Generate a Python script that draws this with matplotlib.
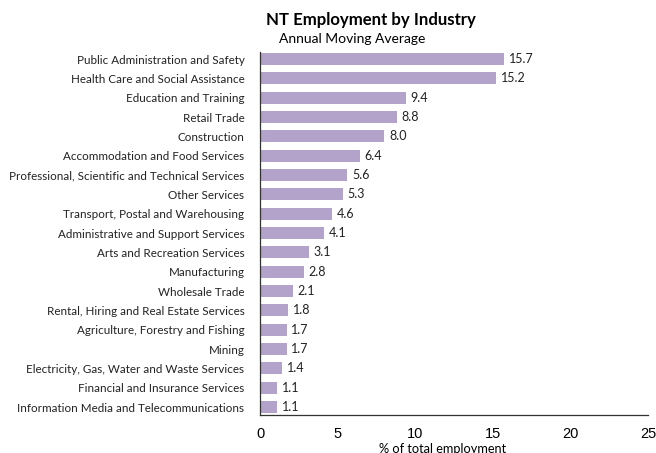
import matplotlib.pyplot as plt

# Data
industries = [
    'Public Administration and Safety',
    'Health Care and Social Assistance',
    'Education and Training',
    'Retail Trade',
    'Construction',
    'Accommodation and Food Services',
    'Professional, Scientific and Technical Services',
    'Other Services',
    'Transport, Postal and Warehousing',
    'Administrative and Support Services',
    'Arts and Recreation Services',
    'Manufacturing',
    'Wholesale Trade',
    'Rental, Hiring and Real Estate Services',
    'Agriculture, Forestry and Fishing',
    'Mining',
    'Electricity, Gas, Water and Waste Services',
    'Financial and Insurance Services',
    'Information Media and Telecommunications',
]
shares = [15.7, 15.2, 9.4, 8.8, 8.0, 6.4, 5.6, 5.3, 4.6, 4.1,
          3.1, 2.8, 2.1, 1.8, 1.7, 1.7, 1.4, 1.1, 1.1]
xticks = [0, 5, 10, 15, 20, 25]

plt.rcParams['font.family'] = 'Lato'

fig = plt.figure(figsize=(6.56, 4.53), dpi=100)
ax = fig.add_axes([0.397, 0.084, 0.591, 0.801])

pos = list(range(len(industries)))
ax.barh(pos, shares, height=0.62, color='#b3a2c9')

# value labels
for p, v in zip(pos, shares):
    ax.text(v + 0.3, p, f'{v:.1f}', va='center', ha='left', fontsize=9, color='#222222')

ax.set_ylim(len(industries) - 0.59, -0.36)
ax.set_xlim(0, 25)
ax.set_yticks(pos)
ax.set_yticklabels(industries, fontsize=8.4, color='#222222')
ax.set_xticks(xticks)
ax.set_xticklabels([str(t) for t in xticks], fontsize=10.5, family='Liberation Sans')
ax.tick_params(axis='y', length=0, pad=11.5)
ax.tick_params(axis='x', length=0, pad=9)
ax.set_xlabel('% of total employment', fontsize=9.2, va='top')
ax.xaxis.set_label_coords(0.47, -0.078)

for s in ['top', 'right']:
    ax.spines[s].set_visible(False)
for s in ['left', 'bottom']:
    ax.spines[s].set_color('#333333')
    ax.spines[s].set_linewidth(0.9)

fig.text(0.566, 0.955, 'NT Employment by Industry', ha='center', va='center',
         fontsize=12.1, fontweight='bold')
fig.text(0.537, 0.915, 'Annual Moving Average', ha='center', va='center', fontsize=10)

fig.savefig('out.png', dpi=100)
